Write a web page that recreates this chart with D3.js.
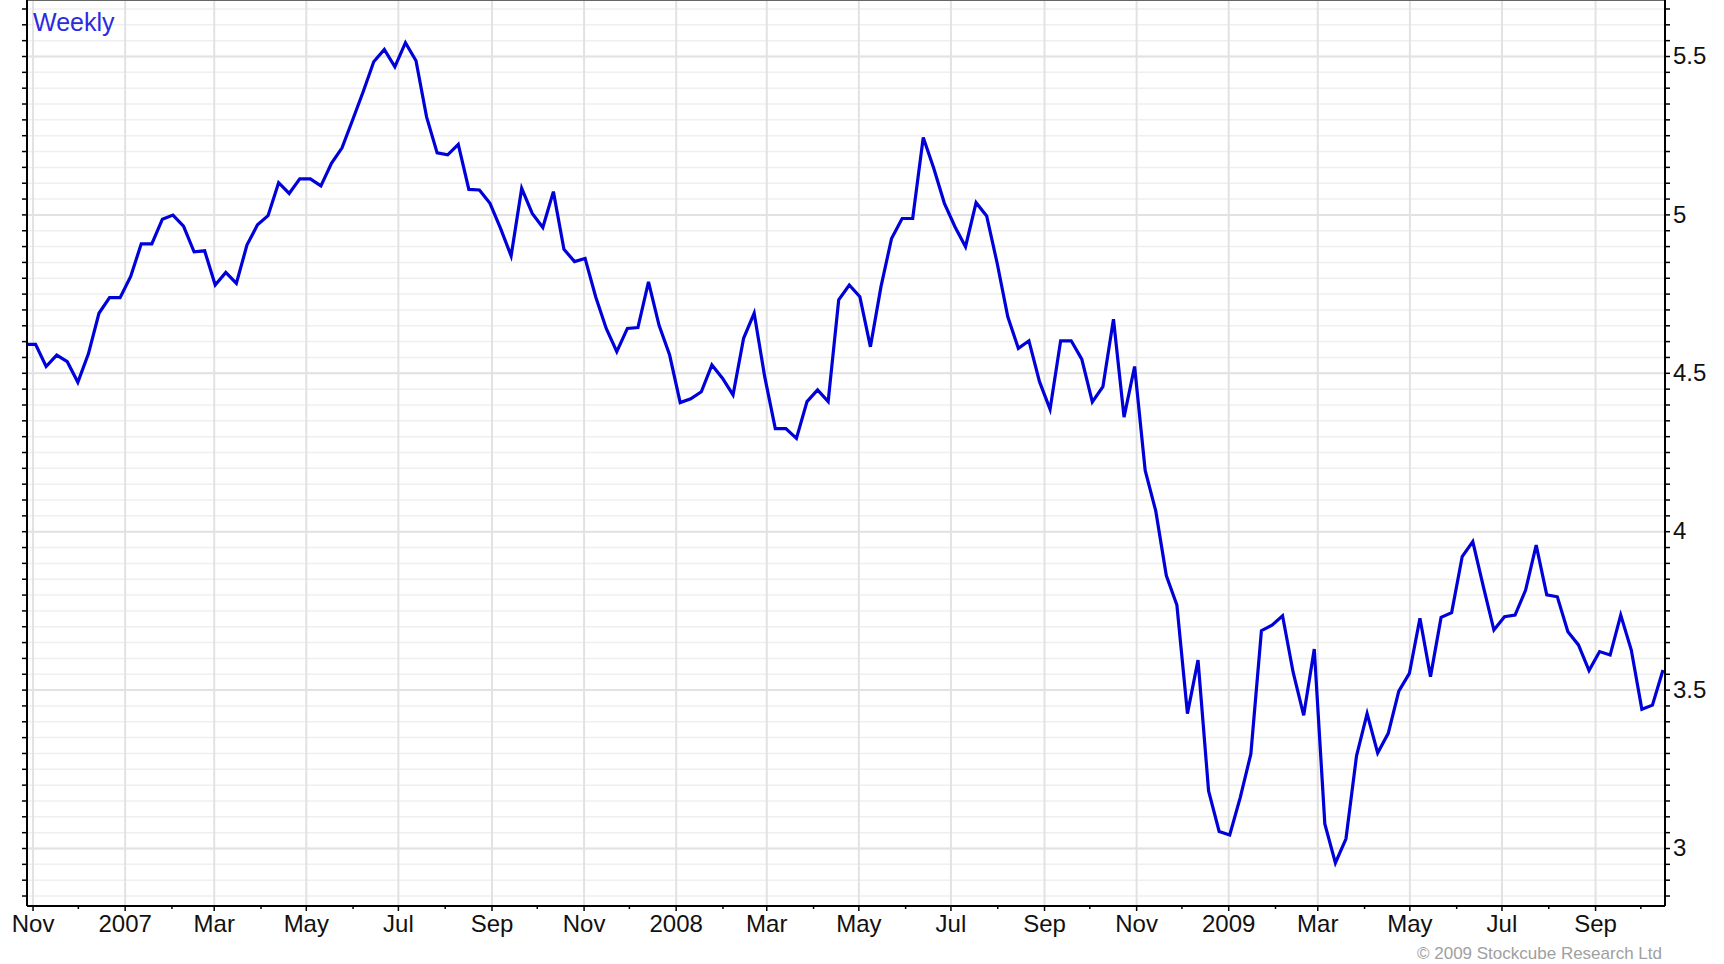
<!DOCTYPE html>
<html>
<head>
<meta charset="utf-8">
<script src="https://cdn.jsdelivr.net/npm/d3@7"></script>
<style>
	body { margin: 0; background: #fff; }
	svg { display: block; font-family: Arial, "Liberation Sans", sans-serif; }
	.axis path, .axis line { stroke: #000; }
	.axis text { fill: #111; font-size: 24px; }
	.grid path { display: none; }
	.grid.minor line { stroke: #efefef; stroke-width: 1.5; }
	.grid.major line { stroke: #e2e2e2; stroke-width: 2; }
</style>
</head>
<body>
<svg id="chart" width="1724" height="964"></svg>
<script>
'use strict';

// weekly closes, first week ending 27 Oct 2006
var firstWeek = new Date(2006, 9, 27);
var weeklyValues = [
	4.59, 4.59, 4.52, 4.556, 4.535, 4.47, 4.56, 4.688, 4.737, 4.737,
	4.804, 4.907, 4.907, 4.985, 4.998, 4.963, 4.882, 4.885, 4.777, 4.817,
	4.782, 4.903, 4.967, 4.996, 5.10, 5.066, 5.112, 5.112, 5.09, 5.161,
	5.21, 5.298, 5.387, 5.482, 5.521, 5.466, 5.542, 5.485, 5.308, 5.194,
	5.188, 5.221, 5.079, 5.077, 5.035, 4.956, 4.869, 5.082, 5.003, 4.959,
	5.072, 4.89, 4.851, 4.861, 4.74, 4.64, 4.567, 4.64, 4.643, 4.787,
	4.65, 4.556, 4.406, 4.418, 4.44, 4.525, 4.483, 4.43, 4.609, 4.688,
	4.487, 4.324, 4.324, 4.293, 4.409, 4.446, 4.409, 4.73, 4.777, 4.74,
	4.582, 4.772, 4.924, 4.987, 4.987, 5.243, 5.145, 5.035, 4.961, 4.898,
	5.037, 4.995, 4.845, 4.677, 4.577, 4.601, 4.472, 4.385, 4.601, 4.601,
	4.543, 4.408, 4.456, 4.669, 4.36, 4.52, 4.192, 4.064, 3.86, 3.767,
	3.424, 3.593, 3.18, 3.052, 3.041, 3.16, 3.297, 3.686, 3.703, 3.733,
	3.555, 3.419, 3.628, 3.076, 2.953, 3.029, 3.291, 3.424, 3.30, 3.362,
	3.495, 3.551, 3.725, 3.541, 3.728, 3.743, 3.92, 3.967, 3.825, 3.688,
	3.73, 3.735, 3.814, 3.956, 3.799, 3.793, 3.683, 3.641, 3.56, 3.62,
	3.609, 3.735, 3.625, 3.438, 3.451, 3.562
];
var yLabelValues = [3, 3.5, 4, 4.5, 5, 5.5];
var titleText = 'Weekly';
var creditText = '\u00a9 2009 Stockcube Research Ltd';

var plot = { left: 27, right: 1665, top: 0, bottom: 906 };

var svg = d3.select('#chart');

var weeks = weeklyValues.map(function(v, i) {
	return { date: d3.timeDay.offset(firstWeek, 7*i), value: v };
});

var xScale = d3.scaleTime()
	.domain(d3.extent(weeks, function(d) { return d.date; }))
	.range([plot.left - 2, plot.right - 2])
	;
// 3 sits at 848px, 5.5 at 56px
var yScale = d3.scaleLinear()
	.domain([3, 5.5])
	.range([848, 56])
	;

// every 0.05 inside the frame
var minorValues = d3.range(57, 114).map(function(k) { return k/20; });
var monthTicks = d3.timeMonth.range(new Date(2006, 10, 1), new Date(2009, 9, 20));
var labelTicks = monthTicks.filter(function(d) { return d.getMonth() % 2 === 0; });

var plotW = plot.right - plot.left;
var plotH = plot.bottom - plot.top;

// horizontal grid
svg.append('g')
	.attr('class', 'grid minor')
	.attr('transform', 'translate(' + plot.left + ',0)')
	.call(d3.axisLeft(yScale).tickValues(minorValues).tickSize(-plotW).tickFormat(''))
	;
svg.append('g')
	.attr('class', 'grid major')
	.attr('transform', 'translate(' + plot.left + ',0)')
	.call(d3.axisLeft(yScale).tickValues(yLabelValues).tickSize(-plotW).tickFormat(''))
	;
// vertical grid every two months
svg.append('g')
	.attr('class', 'grid major')
	.attr('transform', 'translate(0,' + plot.bottom + ')')
	.call(d3.axisBottom(xScale).tickValues(labelTicks).tickSize(-plotH).tickFormat(''))
	;

// the series
var line = d3.line()
	.x(function(d) { return Math.max(plot.left, xScale(d.date)); })
	.y(function(d) { return yScale(d.value); })
	;
svg.append('path')
	.datum(weeks)
	.attr('d', line)
	.attr('fill', 'none')
	.attr('stroke', '#0000d8')
	.attr('stroke-width', 3.2)
	.attr('stroke-linejoin', 'miter')
	;

// frame top
svg.append('line')
	.attr('x1', plot.left).attr('x2', plot.right)
	.attr('y1', 0.5).attr('y2', 0.5)
	.attr('stroke', '#666')
	.attr('stroke-width', 1)
	;

// left axis: ticks only
var leftAxis = svg.append('g')
	.attr('class', 'axis left')
	.attr('transform', 'translate(' + plot.left + ',0)')
	.call(d3.axisLeft(yScale).tickValues(minorValues).tickSize(5).tickSizeOuter(0).tickFormat(''))
	;
leftAxis.select('.domain').attr('d', 'M0,' + plot.top + 'V' + plot.bottom).attr('stroke-width', 2);
leftAxis.selectAll('.tick line').attr('stroke-width', 1.5);

// right axis with labels
var rightTicks = svg.append('g')
	.attr('class', 'axis right')
	.attr('transform', 'translate(' + plot.right + ',0)')
	.call(d3.axisRight(yScale).tickValues(minorValues).tickSize(5).tickSizeOuter(0).tickFormat(''))
	;
rightTicks.select('.domain').attr('d', 'M0,' + plot.top + 'V' + plot.bottom).attr('stroke-width', 2);
rightTicks.selectAll('.tick line').attr('stroke-width', 1.5);
svg.append('g')
	.attr('class', 'axis right labels')
	.attr('transform', 'translate(' + plot.right + ',0)')
	.call(d3.axisRight(yScale).tickValues(yLabelValues).tickSize(0).tickPadding(8).tickFormat(d3.format('')))
	.call(function(g) { g.select('.domain').remove(); })
	;

// bottom axis
var bottomAxis = svg.append('g')
	.attr('class', 'axis bottom')
	.attr('transform', 'translate(0,' + plot.bottom + ')')
	.call(d3.axisBottom(xScale)
		.tickValues(monthTicks)
		.tickSize(5)
		.tickSizeOuter(0)
		.tickPadding(4)
		.tickFormat(function(d) {
			if (d.getMonth() % 2 !== 0) return '';
			return d.getMonth() === 0 ? d3.timeFormat('%Y')(d) : d3.timeFormat('%b')(d);
		}))
	;
bottomAxis.select('.domain').attr('d', 'M' + plot.left + ',0H' + plot.right).attr('stroke-width', 2);
bottomAxis.selectAll('.tick line')
	.attr('stroke-width', 1.5)
	.attr('y2', function(d) { return d.getMonth() % 2 === 0 ? 5 : 3; })
	;

// captions
svg.append('text')
	.attr('x', 33)
	.attr('y', 31)
	.attr('fill', '#2a2ae0')
	.attr('font-size', 25)
	.text(titleText)
	;
svg.append('text')
	.attr('x', 1662)
	.attr('y', 959)
	.attr('text-anchor', 'end')
	.attr('fill', '#a0a0a0')
	.attr('font-size', 17)
	.text(creditText)
	;
</script>
</body>
</html>
